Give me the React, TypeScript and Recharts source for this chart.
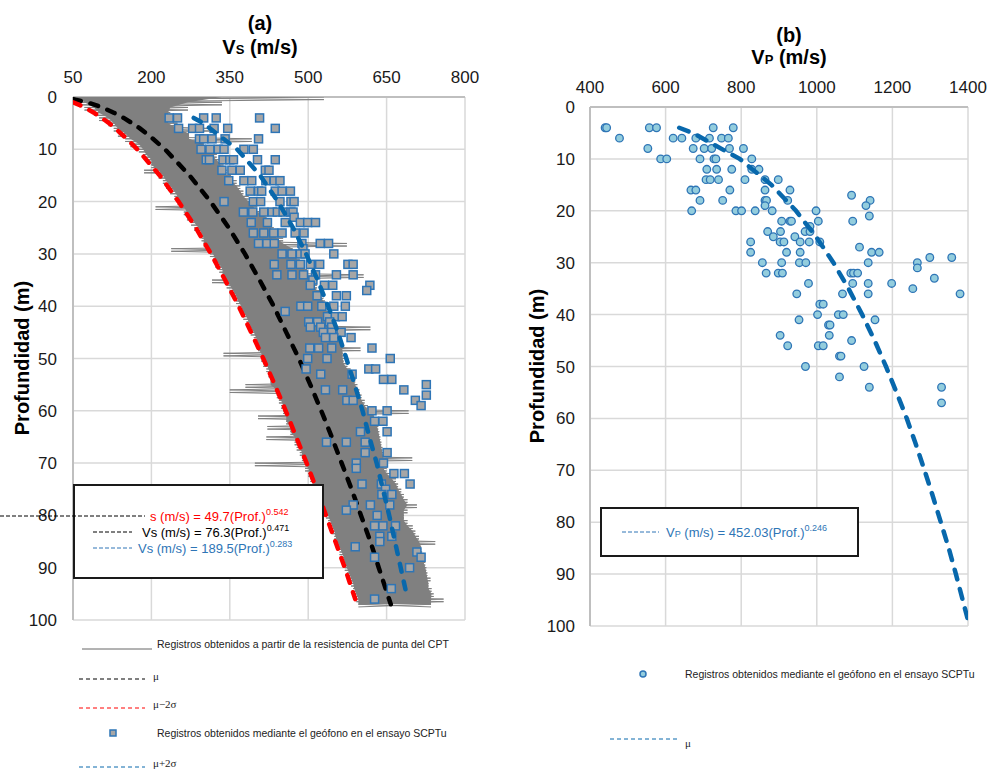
import { ScatterChart, Scatter, XAxis, YAxis, CartesianGrid } from 'recharts';

const FONT = 'Arial, "Liberation Sans", sans-serif';
const SERIF = '"Times New Roman", "Liberation Serif", serif';

const depthTicks = [0, 10, 20, 30, 40, 50, 60, 70, 80, 90, 100];
const vsTicks = [50, 200, 350, 500, 650, 800];
const vpTicks = [400, 600, 800, 1000, 1200, 1400];

// CPT trace, read as left / right edge of the grey band per metre
const cptDepth = [
  0, 1, 2, 3, 4, 5, 6, 7, 8, 9, 10, 11, 12, 13, 14, 15, 16, 17, 18, 19,
  20, 21, 22, 23, 24, 25, 26, 27, 28, 29, 30, 31, 32, 33, 34, 35, 36, 37, 38, 39,
  40, 41, 42, 43, 44, 45, 46, 47, 48, 49, 50, 51, 52, 53, 54, 55, 56, 57, 58, 59,
  60, 61, 62, 63, 64, 65, 66, 67, 68, 69, 70, 71, 72, 73, 74, 75, 76, 77, 78, 79,
  80, 81, 82, 83, 84, 85, 86, 87, 88, 89, 90, 91, 92, 93, 94, 95, 96, 97,
];
const cptLeft = [
  50, 56, 72, 90, 100, 118, 128, 136, 150, 160,
  176, 184, 190, 200, 186, 214, 222, 228, 236, 244,
  250, 208, 262, 268, 276, 282, 290, 296, 300, 238,
  312, 318, 322, 330, 336, 316, 344, 350, 356, 362,
  366, 372, 376, 382, 386, 390, 396, 400, 404, 338,
  410, 414, 420, 424, 428, 380, 350, 440, 444, 448,
  452, 404, 458, 422, 466, 420, 474, 478, 484, 488,
  398, 494, 500, 504, 508, 512, 516, 520, 526, 530,
  534, 538, 542, 546, 550, 552, 556, 560, 564, 568,
  570, 574, 578, 582, 586, 588, 592, 596,
];
const cptRight = [
  530, 335, 270, 236, 232, 250, 318, 272, 392, 300,
  312, 325, 332, 338, 344, 352, 363, 370, 376, 386,
  395, 402, 459, 420, 428, 434, 440, 452, 574, 470,
  478, 484, 491, 498, 606, 510, 517, 523, 529, 532,
  536, 542, 546, 550, 619, 555, 560, 565, 600, 566,
  568, 575, 581, 586, 590, 594, 598, 602, 608, 614,
  692, 626, 632, 634, 636, 638, 640, 642, 646, 699,
  644, 650, 660, 668, 672, 678, 683, 690, 708, 690,
  683, 690, 700, 705, 712, 743, 716, 718, 721, 724,
  726, 728, 734, 730, 736, 740, 759, 735,
];

// mean and +/- 2 sigma curves (a)
const muDepth = [0.4, 1, 1.5, 2, 3, 4, 5, 6, 8, 10, 15, 20, 25, 30, 35, 40, 45, 50, 55, 60, 65, 70, 75, 80, 85, 90, 97];
const muVs = [50, 76, 92, 106, 128, 147, 163, 178, 203, 226, 273, 313, 348, 379, 407, 434, 458, 482, 504, 525, 545, 564, 583, 601, 619, 635, 658];
const lowDepth = [1, 1.5, 2, 3, 4, 5, 6, 8, 10, 15, 20, 25, 30, 35, 40, 45, 50, 55, 60, 65, 70, 75, 80, 85, 90, 96];
const lowVs = [50, 62, 72, 90, 105, 119, 131, 153, 173, 216, 252, 285, 314, 341, 367, 391, 414, 436, 457, 477, 497, 516, 534, 552, 570, 590];
const highDepth = [4, 5, 10, 15, 20, 25, 30, 35, 40, 45, 50, 55, 60, 65, 70, 75, 80, 85, 90, 95];
const highVs = [281, 299, 364, 408, 442, 471, 496, 518, 538, 557, 573, 589, 604, 617, 631, 643, 655, 666, 677, 688];

// SCPTu geophone Vs (a)
const scptDepthA = [
  4, 4, 4, 4, 4,
  6, 6, 6, 6, 6, 6,
  8, 8, 8, 8, 8,
  10, 10, 10, 10, 10, 10,
  12, 12, 12, 12, 12, 12, 12,
  14, 14, 14, 14, 14,
  16, 16, 16, 16, 16, 16,
  18, 18, 18, 18, 18, 18,
  20, 20, 20, 20, 20, 20,
  22, 22, 22, 22, 22, 22, 22, 22, 23,
  24, 24, 24, 24, 24, 24,
  26, 26, 26, 26, 26, 26,
  28, 28, 28, 28, 28, 28, 29,
  30, 30, 30, 30, 30,
  32, 32, 32, 32, 32, 32, 32,
  34, 34, 34, 34, 34, 34, 35,
  36, 36, 36, 36, 37,
  38, 38, 38,
  40, 40, 40, 40, 40, 41,
  42, 42, 42, 43, 43, 43, 44, 44, 44, 45, 45, 45,
  46, 46, 46, 48, 48, 48, 48,
  50, 50, 50, 52, 52, 52, 53, 53, 54, 54, 55,
  56, 56, 56, 57, 58, 58, 58, 59,
  60, 60, 62, 62, 64, 64, 66, 66, 66, 68, 68,
  70, 70, 71, 72, 72, 74, 74, 74, 75, 76, 76,
  78, 78, 78, 79, 80, 82, 82, 82, 84, 84, 85,
  86, 87, 88, 88, 90, 94, 96,
];
const scptVsA = [
  234, 250, 300, 324, 407,
  252, 279, 292, 320, 346, 437,
  292, 300, 316, 341, 405,
  295, 312, 328, 339, 377, 395,
  305, 311, 337, 350, 357, 403, 437,
  335, 354, 370, 418, 425,
  348, 377, 392, 419, 435, 446,
  389, 405, 411, 437, 450, 466,
  339, 395, 409, 446, 467, 473,
  376, 394, 415, 431, 441, 452, 467, 471, 473,
  391, 422, 456, 485, 499, 514,
  395, 415, 434, 450, 475, 492,
  405, 421, 435, 488, 523, 539, 490,
  450, 469, 485, 494, 549,
  435, 467, 485, 504, 522, 576, 586,
  440, 469, 491, 514, 554, 586, 509,
  504, 531, 547, 618, 612,
  517, 554, 573,
  486, 499, 526, 549, 571, 456,
  537, 552, 565, 501, 518, 541, 504, 524, 545, 529, 545, 563,
  533, 549, 582, 503, 520, 545, 622,
  499, 536, 657, 496, 616, 629, 524, 584, 644, 660, 726,
  533, 566, 683, 726, 574, 586, 705, 716,
  622, 651, 627, 643, 600, 651, 535, 573, 609, 609, 651,
  592, 644, 592, 664, 684, 603, 640, 695, 648, 641, 660,
  586, 619, 656, 573, 632, 627, 643, 667, 637, 660, 637,
  590, 708, 627, 716, 694, 659, 627,
];

// Vp (b)
const vpLineDepth = [4, 5, 10, 15, 20, 25, 30, 35, 40, 45, 50, 55, 60, 65, 70, 75, 80, 85, 90, 95, 100];
const vpLineVp = [636, 672, 796, 880, 945, 998, 1044, 1084, 1120, 1153, 1183, 1211, 1238, 1262, 1285, 1307, 1328, 1349, 1368, 1386, 1404];

const scptDepthB = [
  4, 4, 4, 4, 4, 4,
  6, 6, 6, 6, 6, 6, 6,
  8, 8, 8, 8, 8, 8,
  10, 10, 10, 10, 10, 10,
  12, 12, 12, 12, 12,
  14, 14, 14, 14, 14, 14,
  16, 16, 16, 16, 16, 17,
  18, 18, 18, 18, 18, 18, 19, 19,
  20, 20, 20, 20, 20, 20, 21,
  22, 22, 22, 22, 22, 23,
  24, 24, 24, 24, 25, 25,
  26, 26, 26, 26, 26, 26, 27,
  28, 28, 28, 28, 28, 29, 29,
  30, 30, 30, 30, 30, 30, 31,
  32, 32, 32, 32, 32, 32, 33,
  34, 34, 34, 34, 35,
  36, 36, 36, 36, 38, 38,
  40, 40, 40, 41, 41, 42, 42,
  44, 44, 45, 46, 46, 46,
  48, 48, 50, 50, 52, 54, 54, 57,
];
const scptVpB = [
  440, 444, 557, 576, 726, 779,
  478, 620, 643, 680, 716, 748, 766,
  553, 673, 702, 722, 769, 806,
  587, 603, 691, 728, 733, 828,
  709, 735, 775, 828, 847,
  707, 718, 740, 810, 863, 898,
  667, 680, 770, 863, 929, 1092,
  691, 751, 863, 867, 923, 1141, 863, 1130,
  669, 786, 801, 837, 882, 998, 1139,
  907, 929, 933, 1004, 1095, 982,
  870, 904, 969, 982, 885, 942,
  825, 903, 913, 956, 980, 1008, 1113,
  825, 920, 956, 1145, 1165, 1299, 1357,
  856, 907, 954, 971, 1136, 1266, 1266,
  866, 898, 909, 1090, 1097, 1108, 1311,
  978, 1095, 1136, 1198, 1254,
  947, 1068, 1136, 1379, 1008, 1017,
  1002, 1057, 1070, 953, 1154, 1031, 1035,
  903, 1033, 1092, 923, 1004, 1017,
  1060, 1064, 970, 1125, 1060, 1139, 1330, 1330,
];

const pts = (xs: number[], ys: number[]) => xs.map((x, i) => ({ x, y: ys[i] }));

// the CPT record is drawn as a solid core (spikes trimmed by neighbours) plus a fine trace carrying the spikes
const coreLeft = cptLeft.map((v, i) => Math.max(v, cptLeft[i - 1] ?? v, cptLeft[i + 1] ?? v));
const coreRight = cptRight.map((v, i) => Math.min(v, cptRight[i - 1] ?? v, cptRight[i + 1] ?? v));
const cptCore = [
  ...cptDepth.map((d, i) => ({ x: coreLeft[i], y: d })),
  ...cptDepth.map((d, i) => ({ x: coreRight[i], y: d })).reverse(),
];
const cptTraceA = cptDepth.flatMap((d, i) => [{ x: cptLeft[i], y: d }, { x: cptRight[i], y: d + 0.5 }]);
const cptTraceB = cptDepth.flatMap((d, i) => [{ x: cptRight[i], y: d }, { x: cptLeft[i], y: d + 0.5 }]);

const NoDot = () => <g />;
const Square = (p: any) => (
  <rect x={p.cx - 4} y={p.cy - 4} width={8} height={8} fill="#a6a6a6" stroke="#2e75b6" strokeWidth={1.5} />
);
const Dot = (p: any) => (
  <circle cx={p.cx} cy={p.cy} r={3.8} fill="#93cddd" stroke="#2e75b6" strokeWidth={1.3} />
);

const axisLine = { stroke: '#bfbfbf', strokeWidth: 2 };
const tickStyle = { fontSize: 17, fill: '#1a1a1a', fontFamily: FONT };

const Abs = ({ x, y, children, style }: any) => (
  <div style={{ position: 'absolute', left: x, top: y, whiteSpace: 'nowrap', ...style }}>{children}</div>
);
const Center = ({ x, y, children, style }: any) => (
  <Abs x={x} y={y} style={{ transform: 'translate(-50%, -50%)', ...style }}>{children}</Abs>
);
const Dash = ({ x, y, w, color, dash = '4 2', width = 1 }: any) => (
  <svg style={{ position: 'absolute', left: x, top: y - 3 }} width={w} height={6}>
    <line x1={0} y1={3} x2={w} y2={3} stroke={color} strokeWidth={width} strokeDasharray={dash} />
  </svg>
);
const Sup = ({ children }: any) => (
  <span style={{ fontSize: 9, position: 'relative', top: -6 }}>{children}</span>
);

const eqText = { fontSize: 13, fontFamily: FONT };
const legText = { fontSize: 10.5, fontFamily: FONT, color: '#222' };
const muText = { fontSize: 11, fontFamily: SERIF, color: '#222' };
const curveDash = { strokeWidth: 4.5, strokeDasharray: '8 10', strokeLinecap: 'round' as const };

const PanelA = () => (
  <div style={{ position: 'absolute', left: 0, top: 0, width: 500, height: 769 }}>
    <ScatterChart width={500} height={640} margin={{ top: 72, right: 35, bottom: 20, left: 23 }}>
      <CartesianGrid stroke="#d9d9d9" strokeWidth={1.5} />
      <XAxis
        type="number" dataKey="x" orientation="top" domain={[50, 800]} ticks={vsTicks} interval={0}
        height={25} tickLine={false} tickSize={0} tickMargin={14} axisLine={axisLine} tick={tickStyle} allowDataOverflow
      />
      <YAxis
        type="number" dataKey="y" reversed domain={[0, 100]} ticks={depthTicks} interval={0}
        width={50} tickLine={false} tickSize={0} tickMargin={16} axisLine={axisLine} tick={tickStyle} allowDataOverflow
      />
      <Scatter data={cptCore} shape={NoDot} line={{ stroke: 'none', fill: '#808080' }} isAnimationActive={false} />
      <Scatter data={cptTraceA} shape={NoDot} line={{ stroke: '#808080', strokeWidth: 1 }} isAnimationActive={false} />
      <Scatter data={cptTraceB} shape={NoDot} line={{ stroke: '#808080', strokeWidth: 1 }} isAnimationActive={false} />
      <Scatter data={pts(muVs, muDepth)} shape={NoDot} line={{ stroke: '#000', ...curveDash }} isAnimationActive={false} />
      <Scatter data={pts(lowVs, lowDepth)} shape={NoDot} line={{ stroke: '#ff0000', ...curveDash }} isAnimationActive={false} />
      <Scatter data={pts(scptVsA, scptDepthA)} shape={Square} isAnimationActive={false} />
      <Scatter data={pts(highVs, highDepth)} shape={NoDot} line={{ stroke: '#0868ac', ...curveDash }} isAnimationActive={false} />
    </ScatterChart>

    <Center x={260} y={23} style={{ fontSize: 20, fontWeight: 'bold', fontFamily: FONT }}>(a)</Center>
    <Center x={260} y={47} style={{ fontSize: 20, fontWeight: 'bold', fontFamily: FONT }}>
      V<span style={{ fontSize: 13 }}>S</span> (m/s)
    </Center>
    <Center x={22} y={358} style={{ fontSize: 20, fontWeight: 'bold', fontFamily: FONT, transform: 'translate(-50%, -50%) rotate(-90deg)' }}>
      Profundidad (m)
    </Center>

    <div style={{ position: 'absolute', left: 73, top: 484, width: 247, height: 91, background: '#fff', border: '2px solid #1a1a1a' }} />
    <Dash x={0} y={516} w={145} color="#000" />
    <Abs x={150} y={516} style={{ ...eqText, color: '#ff0000', transform: 'translateY(-50%)' }}>
      s (m/s) = 49.7(Prof.)<Sup>0.542</Sup>
    </Abs>
    <Dash x={93} y={532} w={39} color="#000" />
    <Abs x={142} y={532} style={{ ...eqText, color: '#000', transform: 'translateY(-50%)' }}>
      Vs (m/s) = 76.3(Prof.)<Sup>0.471</Sup>
    </Abs>
    <Dash x={93} y={548} w={39} color="#2e75b6" />
    <Abs x={138} y={548} style={{ ...eqText, color: '#2e75b6', transform: 'translateY(-50%)' }}>
      Vs (m/s) = 189.5(Prof.)<Sup>0.283</Sup>
    </Abs>

    <svg style={{ position: 'absolute', left: 82, top: 646 }} width={70} height={6}>
      <line x1={0} y1={3} x2={70} y2={3} stroke="#666" strokeWidth={1} />
    </svg>
    <Abs x={157} y={644} style={{ ...legText, transform: 'translateY(-50%)' }}>
      Registros obtenidos a partir de la resistencia de punta del CPT
    </Abs>
    <Dash x={79} y={679} w={66} color="#000" dash="4 3" />
    <Abs x={153} y={676} style={{ ...muText, transform: 'translateY(-50%)' }}>μ</Abs>
    <Dash x={79} y={708} w={66} color="#ff0000" dash="4 3" />
    <Abs x={153} y={704} style={{ ...muText, transform: 'translateY(-50%)' }}>μ−2σ</Abs>
    <svg style={{ position: 'absolute', left: 109, top: 729 }} width={8} height={8}>
      <rect x={1} y={1} width={6} height={6} fill="#a6a6a6" stroke="#2e75b6" strokeWidth={1.5} />
    </svg>
    <Abs x={157} y={733} style={{ ...legText, transform: 'translateY(-50%)' }}>
      Registros obtenidos mediante el geófono en el ensayo SCPTu
    </Abs>
    <Dash x={79} y={767} w={66} color="#0868ac" dash="4 3" />
    <Abs x={153} y={763} style={{ ...muText, transform: 'translateY(-50%)' }}>μ+2σ</Abs>
  </div>
);

const PanelB = () => (
  <div style={{ position: 'absolute', left: 500, top: 0, width: 491, height: 769 }}>
    <ScatterChart width={491} height={646} margin={{ top: 82, right: 23, bottom: 20, left: 40 }}>
      <CartesianGrid stroke="#d9d9d9" strokeWidth={1.5} />
      <XAxis
        type="number" dataKey="x" orientation="top" domain={[400, 1400]} ticks={vpTicks} interval={0}
        height={25} tickLine={false} tickSize={0} tickMargin={14} axisLine={axisLine} tick={tickStyle} allowDataOverflow
      />
      <YAxis
        type="number" dataKey="y" reversed domain={[0, 100]} ticks={depthTicks} interval={0}
        width={50} tickLine={false} tickSize={0} tickMargin={15} axisLine={axisLine} tick={tickStyle} allowDataOverflow
      />
      <Scatter data={pts(scptVpB, scptDepthB)} shape={Dot} isAnimationActive={false} />
      <Scatter data={pts(vpLineVp, vpLineDepth)} shape={NoDot} line={{ stroke: '#0868ac', strokeWidth: 4.5, strokeDasharray: '10 10', strokeLinecap: 'round' }} isAnimationActive={false} />
    </ScatterChart>

    <Center x={289} y={35} style={{ fontSize: 20, fontWeight: 'bold', fontFamily: FONT }}>(b)</Center>
    <Center x={289} y={57} style={{ fontSize: 20, fontWeight: 'bold', fontFamily: FONT }}>
      V<span style={{ fontSize: 13 }}>P</span> (m/s)
    </Center>
    <Center x={37} y={366} style={{ fontSize: 20, fontWeight: 'bold', fontFamily: FONT, transform: 'translate(-50%, -50%) rotate(-90deg)' }}>
      Profundidad (m)
    </Center>

    <div style={{ position: 'absolute', left: 100, top: 507, width: 255, height: 46, background: '#fff', border: '2px solid #1a1a1a' }} />
    <Dash x={122} y={532} w={37} color="#2e75b6" />
    <Abs x={166} y={532} style={{ ...eqText, color: '#2e75b6', transform: 'translateY(-50%)' }}>
      V<span style={{ fontSize: 9 }}>P</span> (m/s) = 452.03(Prof.)<Sup>0.246</Sup>
    </Abs>

    <svg style={{ position: 'absolute', left: 139, top: 670 }} width={8} height={8}>
      <circle cx={4} cy={4} r={3} fill="#93cddd" stroke="#2e75b6" strokeWidth={1.5} />
    </svg>
    <Abs x={185} y={674} style={{ ...legText, transform: 'translateY(-50%)' }}>
      Registros obtenidos mediante el geófono en el ensayo SCPTu
    </Abs>
    <Dash x={110} y={739} w={70} color="#0868ac" dash="4 3" />
    <Abs x={185} y={743} style={{ ...muText, transform: 'translateY(-50%)' }}>μ</Abs>
  </div>
);

export default function App() {
  return (
    <div style={{ position: 'absolute', left: 0, top: 0, width: 991, height: 769, background: '#fff', fontFamily: FONT, overflow: 'hidden' }}>
      <PanelA />
      <PanelB />
    </div>
  );
}
